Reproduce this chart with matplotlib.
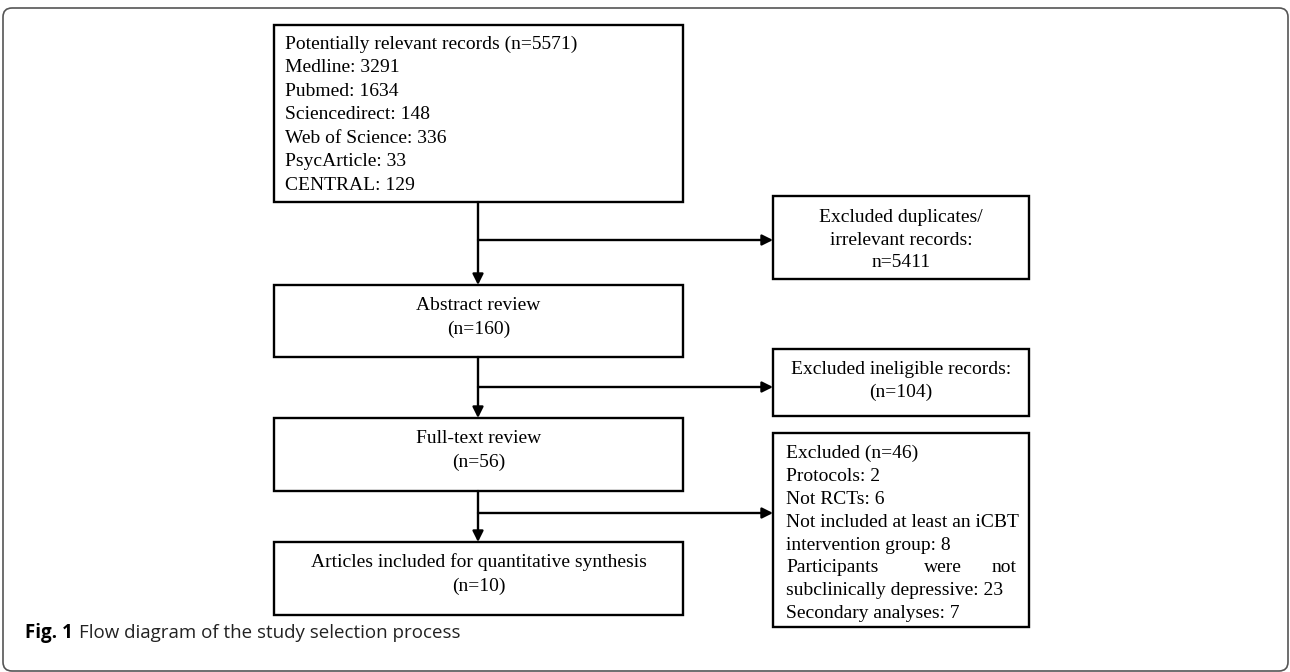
import matplotlib
matplotlib.use("Agg")
import matplotlib.pyplot as plt
from matplotlib.patches import Rectangle, FancyBboxPatch

# counts
sources = ["Medline", "Pubmed", "Sciencedirect", "Web of Science", "PsycArticle", "CENTRAL"]
source_counts = [3291, 1634, 148, 336, 33, 129]
n_identified = 5571
n_duplicates = 5411
n_abstract = 160
n_ineligible = 104
n_fulltext = 56
n_excluded_ft = 46
n_included = 10
ft_reasons = ["Protocols", "Not RCTs", "Not included at least an iCBT intervention group",
              "Participants were not subclinically depressive", "Secondary analyses"]
ft_reason_counts = [2, 6, 8, 23, 7]

SERIF = "Liberation Serif"
FS = 14
LW = 1.7

fig = plt.figure(figsize=(12.9, 6.72), dpi=100)
ax = fig.add_axes([0, 0, 1, 1])
ax.set_xlim(0, 1290)
ax.set_ylim(672, 0)
ax.axis("off")

# outer frame of the figure panel
ax.add_patch(FancyBboxPatch((3, 8), 1285, 663, boxstyle="round,pad=0,rounding_size=9",
                            fill=False, ec="#555555", lw=1.2))


def box(x0, y0, x1, y1):
    ax.add_patch(Rectangle((x0, y0), x1 - x0, y1 - y0, fill=False, ec="black", lw=LW))


def lines(x, baselines, texts, ha="center"):
    for b, t in zip(baselines, texts):
        ax.text(x, b, t, ha=ha, va="baseline", fontsize=FS, family=SERIF)


def arrow(x0, y0, x1, y1):
    ax.annotate("", xy=(x1, y1), xytext=(x0, y0),
                arrowprops=dict(arrowstyle="-|>", mutation_scale=16, lw=LW, color="black",
                                shrinkA=0, shrinkB=0))


LX0, LX1 = 274, 683
RX0, RX1 = 773, 1029
MX = 478
CX = (RX0 + RX1) / 2

# left column
box(LX0, 25, LX1, 202)
top_lines = ["Potentially relevant records (n=%d)" % n_identified] + \
            ["%s: %d" % (s, c) for s, c in zip(sources, source_counts)]
lines(285, [48.5 + 23.6 * i for i in range(len(top_lines))], top_lines, ha="left")

box(LX0, 285, LX1, 357)
lines((LX0 + LX1) / 2, [310, 333.5], ["Abstract review", "(n=%d)" % n_abstract])

box(LX0, 418, LX1, 491)
lines((LX0 + LX1) / 2, [443, 467], ["Full-text review", "(n=%d)" % n_fulltext])

box(LX0, 542, LX1, 615)
lines((LX0 + LX1) / 2, [567, 591], ["Articles included for quantitative synthesis",
                                    "(n=%d)" % n_included])

# right column
box(RX0, 196, RX1, 279)
lines(CX, [222, 245, 267], ["Excluded duplicates/", "irrelevant records:", "n=%d" % n_duplicates])

box(RX0, 349, RX1, 416)
lines(CX, [374, 397], ["Excluded ineligible records:", "(n=%d)" % n_ineligible])

box(RX0, 433, RX1, 627)
bl = [458 + 22.9 * i for i in range(8)]
tx = 786
lines(tx, bl[:3], ["Excluded (n=%d)" % n_excluded_ft,
                   "%s: %d" % (ft_reasons[0], ft_reason_counts[0]),
                   "%s: %d" % (ft_reasons[1], ft_reason_counts[1])], ha="left")
r2 = ft_reasons[2].split(" ")
lines(tx, bl[3:5], [" ".join(r2[:-2]),
                    "%s: %d" % (" ".join(r2[-2:]), ft_reason_counts[2])], ha="left")
r3 = ft_reasons[3].split(" ")
# justified line in the original
ax.text(tx, bl[5], r3[0], ha="left", va="baseline", fontsize=FS, family=SERIF)
ax.text(943, bl[5], r3[1], ha="center", va="baseline", fontsize=FS, family=SERIF)
ax.text(1017, bl[5], r3[2], ha="right", va="baseline", fontsize=FS, family=SERIF)
lines(tx, bl[6:8], [" ".join(r3[3:]) + ": %d" % ft_reason_counts[3],
                    "%s: %d" % (ft_reasons[4], ft_reason_counts[4])], ha="left")

# connectors
for y0, y1, yb in [(202, 285, 240), (357, 418, 387), (491, 542, 513)]:
    arrow(MX, y0, MX, y1)
    arrow(MX, yb, RX0, yb)

# caption
ax.text(25, 638, "Fig. 1", ha="left", va="baseline", fontsize=13.5, family="Open Sans",
        weight="bold")
ax.text(79, 638, "Flow diagram of the study selection process", ha="left", va="baseline",
        fontsize=13.5, family="Open Sans", color="#222222")

fig.savefig("out.png", dpi=100)
